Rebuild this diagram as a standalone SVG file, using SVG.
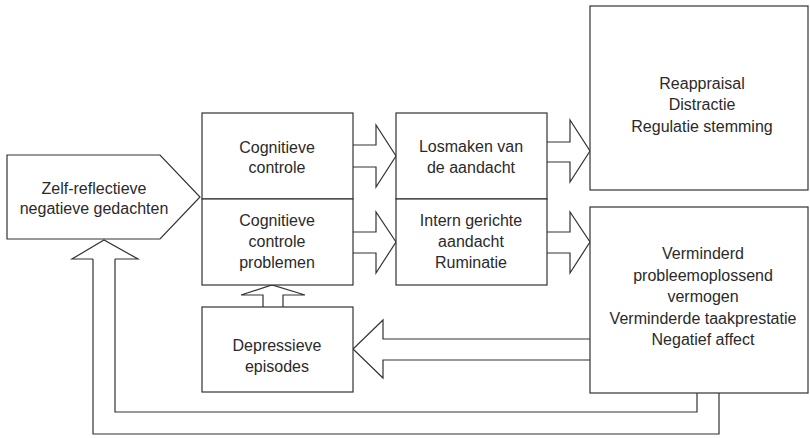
<svg xmlns="http://www.w3.org/2000/svg" width="810" height="438" viewBox="0 0 810 438">
<style>
.box{fill:#fff;stroke:#333;stroke-width:1.2}
.arr{fill:#fff;stroke:#333;stroke-width:1.2;stroke-linejoin:miter}
.ln{fill:none;stroke:#333;stroke-width:1.2}
text{font-family:"Liberation Sans",Arial,sans-serif;font-size:16px;fill:#2a2a2a;text-anchor:middle}
</style>
<rect width="810" height="438" fill="#fff"/>
<g id="connectors">
<path class="ln" d="M697,393 V412 H115 V259"/>
<path class="ln" d="M719,393 V434 H93 V259"/>
<path class="arr" d="M93,259 H72 L104,240 L138,259 H115"/>
<path class="arr" d="M263,307 V295 H241 L272,285 L305,295 H283 V307"/>
<path class="arr" d="M590,339 H383 V320 L353,349 L383,378 V360 H590"/>
<path class="arr" d="M353,145 H376 V125 L396,156 L376,187 V167 H353"/>
<path class="arr" d="M353,232 H376 V212 L396,242 L376,273 V253 H353"/>
<path class="arr" d="M547,142 H570 V120 L590,151 L570,182 V162 H547"/>
<path class="arr" d="M547,232 H570 V212 L590,242 L570,273 V253 H547"/>
</g>
<g id="zelf">
<path class="box" d="M7,155 H160 L200,197 L160,239 H7 Z"/>
<text x="94" y="194">Zelf-reflectieve</text>
<text x="94" y="214">negatieve gedachten</text>
</g>
<g id="cogctrl">
<rect class="box" x="202" y="113" width="151" height="86"/>
<text x="277" y="153">Cognitieve</text>
<text x="277" y="173">controle</text>
</g>
<g id="cogprob">
<rect class="box" x="202" y="199" width="151" height="86"/>
<text x="277" y="226">Cognitieve</text>
<text x="277" y="247">controle</text>
<text x="277" y="268">problemen</text>
</g>
<g id="losmaken">
<rect class="box" x="396" y="113" width="151" height="86"/>
<text x="471" y="152">Losmaken van</text>
<text x="471" y="173">de aandacht</text>
</g>
<g id="intern">
<rect class="box" x="396" y="199" width="151" height="86"/>
<text x="471" y="226">Intern gerichte</text>
<text x="471" y="247">aandacht</text>
<text x="471" y="268">Ruminatie</text>
</g>
<g id="depressieve">
<rect class="box" x="202" y="307" width="151" height="85"/>
<text x="277" y="351">Depressieve</text>
<text x="277" y="372">episodes</text>
</g>
<g id="reappraisal">
<rect class="box" x="590" y="6" width="218" height="184"/>
<text x="702" y="89">Reappraisal</text>
<text x="702" y="110">Distractie</text>
<text x="702" y="132">Regulatie stemming</text>
</g>
<g id="verminderd">
<rect class="box" x="590" y="207" width="218" height="186"/>
<text x="703" y="259">Verminderd</text>
<text x="703" y="281">probleemoplossend</text>
<text x="703" y="302">vermogen</text>
<text x="703" y="324">Verminderde taakprestatie</text>
<text x="703" y="345">Negatief affect</text>
</g>
</svg>
